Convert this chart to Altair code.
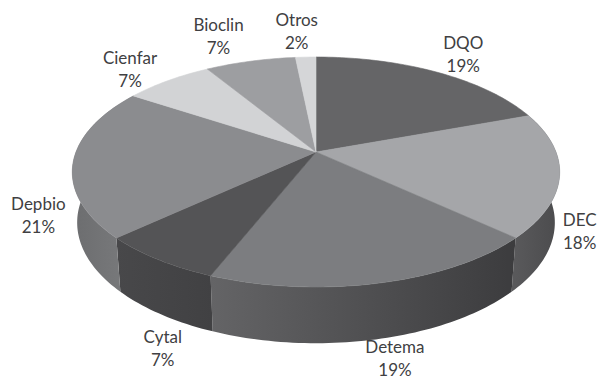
import math
import altair as alt

names = ["DQO", "DEC", "Detema", "Cytal", "Depbio", "Cienfar", "Bioclin", "Otros"]
shares = [19.4, 17.5, 19.1, 7.1, 21.2, 7.0, 7.1, 1.6]
labels = ["19%", "18%", "19%", "7%", "21%", "7%", "7%", "2%"]
top_colors = ["#656567", "#a5a6a9", "#7c7d80", "#545456", "#8b8c8f", "#d2d3d5", "#9d9ea1", "#d5d6d8"]
side_stops = {
    "DEC": ("#5a5a5c", "#4b4b4d"),
    "Detema": ("#646466", "#3c3c3e"),
    "Cytal": ("#48484a", "#414143"),
    "Depbio": ("#6c6d6f", "#7b7c7e"),
}
label_offsets = {
    "DQO": (27, -16), "DEC": (20, 58), "Detema": (15, 77), "Cytal": (5, 90),
    "Depbio": (-35, 55), "Cienfar": (-38, -10), "Bioclin": (-32, -24), "Otros": (-9, -25),
}

CX, CY, A, B, K = 308, 144, 240, 111.5, 0.174
FONT = "Lato"


def rim(theta):
    w = 1 + K * math.cos(theta)
    return (CX + A * math.sin(theta) / w, CY - B * math.cos(theta) / w)


def lower(p):
    return (CX + (p[0] - CX) * 0.98, p[1] + 49.5 + 0.05 * (p[1] - CY))


edges = [0.0]
for s in shares:
    edges.append(edges[-1] + s)

tops, sides, texts = [], [], []
for i, name in enumerate(names):
    t0 = edges[i] / 100 * 2 * math.pi
    t1 = edges[i + 1] / 100 * 2 * math.pi
    n = max(4, int(shares[i] * 3))
    arc = [rim(t0 + (t1 - t0) * j / n) for j in range(n + 1)]
    tops.append({"type": "Feature", "properties": {"name": name, "fill": top_colors[i]},
                 "geometry": {"type": "Polygon",
                              "coordinates": [[[CX, CY]] + [list(p) for p in arc] + [[CX, CY]]]}})
    if name in side_stops:
        ring = [list(p) for p in arc] + [list(lower(p)) for p in reversed(arc)] + [list(arc[0])]
        sides.append((name, {"type": "Feature", "properties": {"name": name},
                             "geometry": {"type": "Polygon", "coordinates": [ring]}}))
    mid = rim((t0 + t1) / 2)
    ox, oy = label_offsets[name]
    texts.append({"lon": mid[0] + ox, "lat": mid[1] + oy - 11.5, "text": name})
    texts.append({"lon": mid[0] + ox, "lat": mid[1] + oy + 11.5, "text": labels[i]})

proj = dict(type="identity", scale=1, translate=[0, 0])

layers = []
for name, feature in sides:
    c0, c1 = side_stops[name]
    grad = alt.LinearGradient(gradient="linear", x1=0, x2=1, y1=0, y2=0,
                              stops=[alt.GradientStop(color=c0, offset=0),
                                     alt.GradientStop(color=c1, offset=1)])
    layers.append(alt.Chart(alt.Data(values=[feature])).mark_geoshape(fill=grad, strokeWidth=0)
                  .project(**proj))

top_layer = (
    alt.Chart(alt.Data(values=tops))
    .mark_geoshape(strokeWidth=0.6)
    .encode(fill=alt.Fill("properties.fill:N", scale=None),
            stroke=alt.Stroke("properties.fill:N", scale=None))
    .project(**proj)
)
text_layer = (
    alt.Chart(alt.Data(values=texts))
    .mark_text(font=FONT, fontSize=17, color="#404042", align="center", baseline="middle")
    .encode(longitude="lon:Q", latitude="lat:Q", text="text:N")
    .project(**proj)
)

chart = (
    alt.layer(*layers, top_layer, text_layer)
    .properties(width=589, height=373, padding=0, autosize=alt.AutoSizeParams(type="none"))
    .configure_view(stroke=None)
)
chart.save("out.html", embed_options={"renderer": "svg", "actions": False})
